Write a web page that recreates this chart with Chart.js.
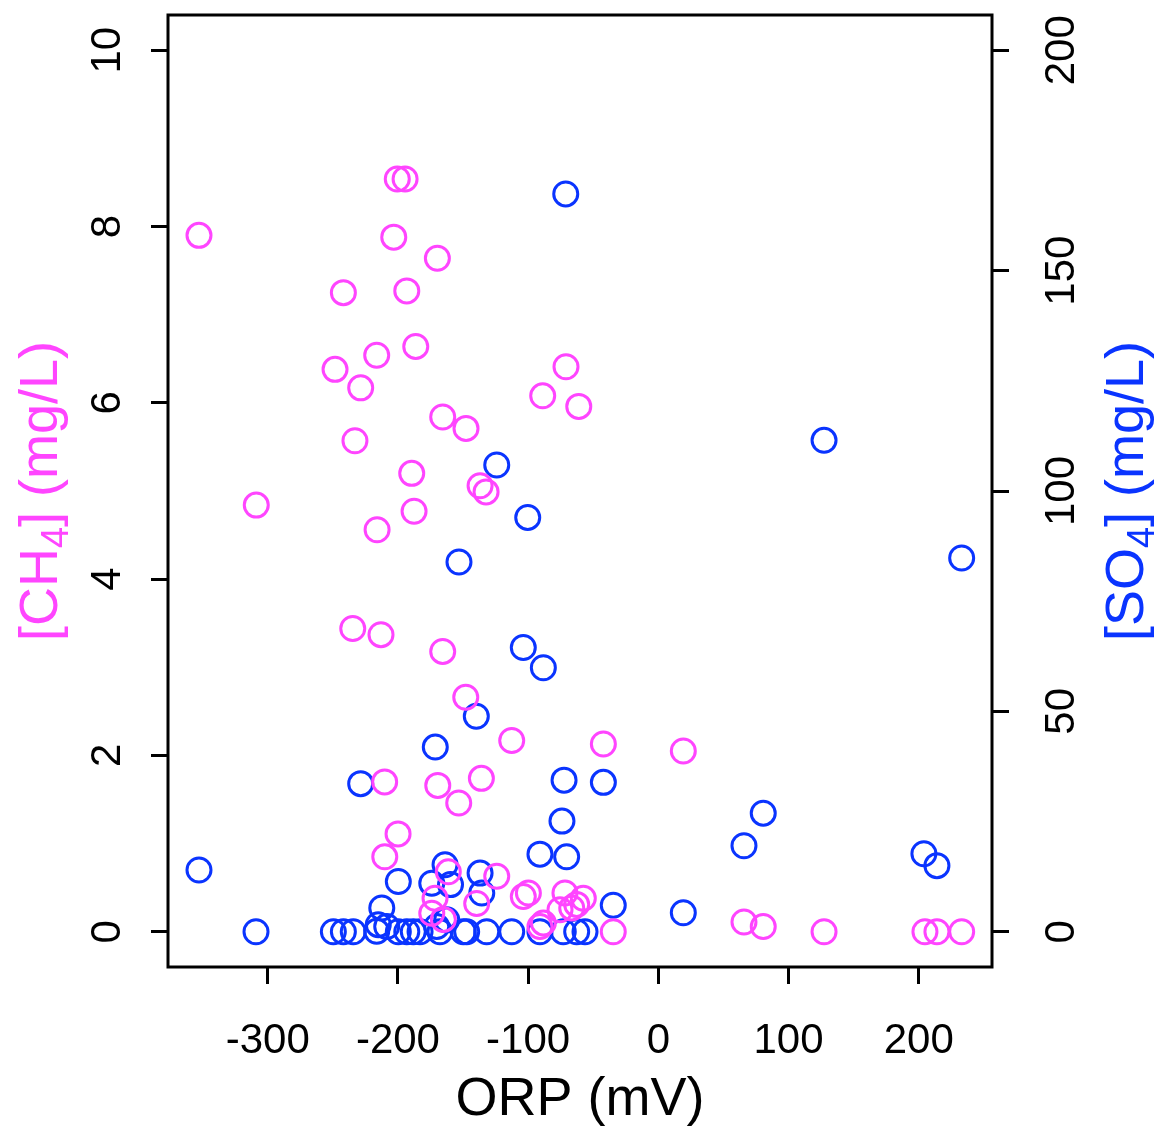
<!DOCTYPE html>
<html>
<head>
<meta charset="utf-8">
<title>CH4 and SO4 vs ORP</title>
<script src="https://cdn.jsdelivr.net/npm/chart.js@4.4.1/dist/chart.umd.min.js"></script>
<style>
  html, body { margin: 0; padding: 0; background: #fff; }
  canvas { display: block; }
</style>
</head>
<body>
<canvas id="chart" width="1159" height="1133"></canvas>
<script>
// Data
const ch4Orp = [-200.5, -194.5, -352.8, -203.2, -169.7, -241.9, -193.2, -186.3, -216.3, -248.3,
  -228.6, -165.6, -147.7, -233.0, -189.4, -136.9, -132.3, -308.8, -187.6, -216.0,
  -70.9, -88.8, -61.1, -234.7, -213.0, -165.6, -147.9, -112.6, -42.2, 19.2,
  -210.2, -169.4, -135.9, -153.3, -199.9, -210.1, -161.3, -124.1, -171.5, -174.0,
  -165.1, -139.5, -103.7, -99.8, -71.7, -57.6, -75.5, -66.5, -62.7, -90.9,
  -88.3, -34.6, 65.8, 80.6, 127.3, 204.8, 214.0, 233.0];
const ch4 = [8.54, 8.54, 7.90, 7.88, 7.64, 7.25, 7.27, 6.64, 6.54, 6.38,
  6.17, 5.84, 5.71, 5.57, 5.20, 5.06, 4.99, 4.84, 4.77, 4.56,
  6.41, 6.08, 5.96, 3.44, 3.37, 3.18, 2.66, 2.17, 2.13, 2.05,
  1.70, 1.66, 1.74, 1.46, 1.11, 0.85, 0.68, 0.63, 0.38, 0.21,
  0.14, 0.32, 0.40, 0.44, 0.44, 0.38, 0.25, 0.27, 0.31, 0.06,
  0.10, 0.00, 0.11, 0.06, 0.00, 0.00, 0.00, 0.00];

const so4Orp = [-71.1, -124.1, -100.3, -153.1, 127.3, 233.0, -103.7, -88.3, -139.8, -171.3,
  -228.6, -72.4, -42.2, -74.0, 80.6, 65.8, 204.0, 214.0, 19.2, -90.9,
  -70.4, -352.8, -199.7, -163.8, -174.0, -159.6, -136.9, -135.6, -212.4, -34.6,
  -309.0, -249.6, -241.9, -234.3, -216.3, -215.1, -208.6, -199.7, -193.2, -188.2,
  -183.0, -170.2, -167.7, -162.5, -149.8, -147.2, -131.8, -112.6, -90.9, -73.0,
  -62.7, -56.3];
const so4 = [167.4, 105.9, 94.0, 83.9, 111.5, 84.8, 64.5, 59.9, 48.9, 41.9,
  33.6, 34.4, 33.9, 25.1, 26.9, 19.5, 17.7, 15.0, 4.3, 17.6,
  17.0, 14.0, 11.4, 15.2, 11.0, 10.7, 13.3, 8.8, 5.4, 6.0,
  0, 0, 0, 0, 0.1, 1.6, 1.2, 0, 0, 0,
  0, 1.2, 0, 2.7, 0, 0, 0, 0, 0, 0,
  0, 0];

// Tick labels
const orpTicks = [-300, -200, -100, 0, 100, 200];
const ch4Ticks = [0, 2, 4, 6, 8, 10];
const so4Ticks = [0, 50, 100, 150, 200];

const pink = '#ff45ff';
const blue = '#0a34ff';
const fontFamily = '"Liberation Sans", Arial, Helvetica, sans-serif';

function useTicks(values) {
  return scale => { scale.ticks = values.map(v => ({ value: v })); };
}

// keep the plot area fixed: no extra room for overhanging labels
function fixSize(key, size) {
  return scale => {
    scale[key] = size;
    scale.paddingTop = 0;
    scale.paddingBottom = 0;
    scale.paddingLeft = 0;
    scale.paddingRight = 0;
  };
}

// Box round the plot and the two rotated y titles with subscripts
function drawYTitle(ctx, x, y, parts, color) {
  const big = '54px ' + fontFamily;
  const small = '38px ' + fontFamily;
  ctx.save();
  ctx.translate(x, y);
  ctx.rotate(-Math.PI / 2);
  ctx.font = big;
  const w0 = ctx.measureText(parts[0]).width;
  const w2 = ctx.measureText(parts[2]).width;
  ctx.font = small;
  const w1 = ctx.measureText(parts[1]).width;
  let cx = -(w0 + w1 + w2) / 2;
  ctx.fillStyle = color;
  ctx.textAlign = 'left';
  ctx.textBaseline = 'alphabetic';
  ctx.font = big;
  ctx.fillText(parts[0], cx, 0);
  cx += w0;
  ctx.font = small;
  ctx.fillText(parts[1], cx, 11);
  cx += w1;
  ctx.font = big;
  ctx.fillText(parts[2], cx, 0);
  ctx.restore();
}

const frameAndTitles = {
  id: 'frameAndTitles',
  afterDraw(chart) {
    const { ctx, chartArea: a } = chart;
    ctx.save();
    ctx.strokeStyle = '#000';
    ctx.lineWidth = 3;
    ctx.strokeRect(a.left, a.top, a.right - a.left, a.bottom - a.top);
    ctx.restore();
    const midY = (a.top + a.bottom) / 2;
    drawYTitle(ctx, 57, midY, ['[CH', '4', '] (mg/L)'], pink);
    drawYTitle(ctx, 1143, midY, ['[SO', '4', '] (mg/L)'], blue);
  }
};

const axisGrid = {
  display: true,
  drawOnChartArea: false,
  drawTicks: true,
  tickLength: 17,
  tickWidth: 3,
  tickColor: '#000',
  color: '#000',
  lineWidth: 3
};

new Chart(document.getElementById('chart').getContext('2d'), {
  type: 'scatter',
  data: {
    datasets: [
      {
        label: 'CH4',
        data: ch4Orp.map((x, i) => ({ x: x, y: ch4[i] })),
        yAxisID: 'y',
        borderColor: pink,
        backgroundColor: 'rgba(0,0,0,0)',
        borderWidth: 3,
        pointRadius: 12,
        pointHoverRadius: 12
      },
      {
        label: 'SO4',
        data: so4Orp.map((x, i) => ({ x: x, y: so4[i] })),
        yAxisID: 'y1',
        borderColor: blue,
        backgroundColor: 'rgba(0,0,0,0)',
        borderWidth: 3,
        pointRadius: 12,
        pointHoverRadius: 12
      }
    ]
  },
  options: {
    responsive: false,
    animation: false,
    events: [],
    layout: { padding: { top: 14, left: 0, right: 0, bottom: 0 } },
    plugins: {
      legend: { display: false },
      tooltip: { enabled: false }
    },
    scales: {
      x: {
        type: 'linear',
        position: 'bottom',
        min: -376.6,
        max: 256.3,
        afterBuildTicks: useTicks(orpTicks),
        afterFit: fixSize('height', 166),
        grid: axisGrid,
        border: { display: false },
        ticks: {
          color: '#000',
          padding: 32,
          maxRotation: 0,
          font: { family: fontFamily, size: 42 }
        },
        title: {
          display: true,
          text: 'ORP (mV)',
          color: '#000',
          padding: { top: 0, bottom: 0 },
          font: { family: fontFamily, size: 54 }
        }
      },
      y: {
        type: 'linear',
        position: 'left',
        min: -0.4,
        max: 10.4,
        afterBuildTicks: useTicks(ch4Ticks),
        afterFit: fixSize('width', 168),
        grid: axisGrid,
        border: { display: false },
        ticks: {
          color: '#000',
          padding: 19,
          minRotation: 90,
          maxRotation: 90,
          crossAlign: 'center',
          font: { family: fontFamily, size: 42 }
        }
      },
      y1: {
        type: 'linear',
        position: 'right',
        min: -8,
        max: 208,
        afterBuildTicks: useTicks(so4Ticks),
        afterFit: fixSize('width', 167),
        grid: axisGrid,
        border: { display: false },
        ticks: {
          color: '#000',
          padding: 18,
          minRotation: 90,
          maxRotation: 90,
          crossAlign: 'center',
          font: { family: fontFamily, size: 42 }
        }
      }
    }
  },
  plugins: [frameAndTitles]
});
</script>
</body>
</html>
